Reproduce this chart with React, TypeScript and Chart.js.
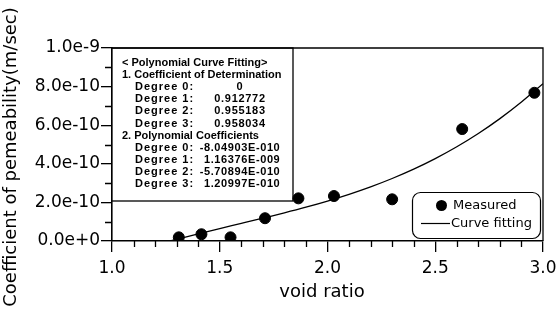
import React, { useEffect, useRef } from 'react';
import { Chart, registerables } from 'chart.js';

Chart.register(...registerables);

// Measured points (void ratio, permeability m/s)
const measuredX = [1.31, 1.415, 1.55, 1.71, 1.865, 2.03, 2.30, 2.625, 2.96];
const measuredY = [1.9e-11, 3.5e-11, 1.9e-11, 1.18e-10, 2.21e-10, 2.33e-10, 2.16e-10, 5.8e-10, 7.68e-10];

// Fitted curve
const curveX = [1.27, 1.3, 1.4, 1.5, 1.6, 1.7, 1.8, 1.9, 2.0, 2.1, 2.2, 2.3, 2.4, 2.5, 2.6, 2.7, 2.8, 2.9, 3.0];
const curveY = [0, 0.09e-10, 0.374e-10, 0.646e-10, 0.912e-10, 1.181e-10, 1.458e-10, 1.752e-10, 2.07e-10, 2.419e-10,
  2.806e-10, 3.239e-10, 3.724e-10, 4.27e-10, 4.883e-10, 5.57e-10, 6.34e-10, 7.198e-10, 8.153e-10];

const yTickLabels = ['0.0e+0', '2.0e-10', '4.0e-10', '6.0e-10', '8.0e-10', '1.0e-9'];
const xTickLabels = ['1.0', '1.5', '2.0', '2.5', '3.0'];

const infoTitle = '< Polynomial Curve Fitting>';
const infoSection1 = '1. Coefficient of Determination';
const infoSection2 = '2. Polynomial Coefficients';
const degreeLabels = ['Degree 0:', 'Degree 1:', 'Degree 2:', 'Degree 3:'];
const determinationValues = ['0', '0.912772', '0.955183', '0.958034'];
const coefficientValues = ['-8.04903E-010', '1.16376E-009', '-5.70894E-010', '1.20997E-010'];

const legendLabels = ['Measured', 'Curve fitting'];
const xTitle = 'void ratio';
const yTitle = 'Coefficient of pemeability(m/sec)';

const AXIS_FONT = '"DejaVu Sans", sans-serif';
const INFO_FONT = 'bold 11px "Liberation Sans", Arial, sans-serif';

const decorPlugin = {
  id: 'decor',
  beforeDatasetsDraw(chart: any) {
    const ctx = chart.ctx;
    const ca = chart.chartArea;
    ctx.save();
    // info box
    const bx = ca.left, by = ca.top, bw = 293 - ca.left, bh = 201 - ca.top;
    ctx.fillStyle = '#fff';
    ctx.fillRect(bx, by, bw, bh);
    ctx.strokeStyle = '#000';
    ctx.lineWidth = 1.3;
    ctx.strokeRect(bx, by, bw, bh);
    ctx.fillStyle = '#000';
    ctx.font = INFO_FONT;
    ctx.textBaseline = 'middle';
    const step = 12.1;
    let y = 63;
    ctx.textAlign = 'left';
    ctx.fillText(infoTitle, 122, y);
    y += step;
    ctx.fillText(infoSection1, 122, y);
    for (let i = 0; i < degreeLabels.length; i++) {
      y += step;
      ctx.textAlign = 'left';
      (ctx as any).letterSpacing = '1px';
      ctx.fillText(degreeLabels[i], 135, y);
      (ctx as any).letterSpacing = '0.7px';
      ctx.textAlign = 'center';
      ctx.fillText(determinationValues[i], 240, y);
    }
    (ctx as any).letterSpacing = '0px';
    y += step;
    ctx.textAlign = 'left';
    ctx.fillText(infoSection2, 122, y);
    for (let i = 0; i < degreeLabels.length; i++) {
      y += step;
      ctx.textAlign = 'left';
      (ctx as any).letterSpacing = '1px';
      ctx.fillText(degreeLabels[i], 135, y);
      (ctx as any).letterSpacing = '0.6px';
      const s = coefficientValues[i];
      let sx = 204;
      if (s.startsWith('-')) sx -= ctx.measureText('-').width;
      ctx.fillText(s, sx, y);
    }
    (ctx as any).letterSpacing = '0px';
    ctx.restore();
  },
  afterDraw(chart: any) {
    const ctx = chart.ctx;
    const ca = chart.chartArea;
    const xs = chart.scales.x;
    const ys = chart.scales.y;
    ctx.save();
    ctx.strokeStyle = '#000';
    // frame top and right
    ctx.lineWidth = 1.3;
    ctx.beginPath();
    ctx.moveTo(ca.left, ca.top);
    ctx.lineTo(ca.right, ca.top);
    ctx.lineTo(ca.right, ca.bottom);
    ctx.stroke();
    // minor ticks
    ctx.lineWidth = 1.3;
    ctx.beginPath();
    for (let i = 1; i < 20; i++) {
      if (i % 5 === 0) continue;
      const px = Math.round(xs.getPixelForValue(1 + i * 0.1)) + 0.5;
      ctx.moveTo(px, ca.bottom);
      ctx.lineTo(px, ca.bottom + 6);
    }
    for (let i = 0; i < 5; i++) {
      const py = Math.round(ys.getPixelForValue((2 * i + 1) * 1e-10)) + 0.5;
      ctx.moveTo(ca.left, py);
      ctx.lineTo(ca.left - 7, py);
    }
    ctx.stroke();

    // legend
    ctx.lineWidth = 1.2;
    ctx.beginPath();
    (ctx as any).roundRect(412.5, 192.5, 128, 46, 8);
    ctx.fillStyle = '#fff';
    ctx.fill();
    ctx.stroke();
    ctx.fillStyle = '#000';
    ctx.beginPath();
    ctx.arc(441.5, 205.5, 5.5, 0, Math.PI * 2);
    ctx.fill();
    ctx.beginPath();
    ctx.moveTo(421, 223.5);
    ctx.lineTo(450, 223.5);
    ctx.stroke();
    ctx.font = '13px ' + AXIS_FONT;
    ctx.textAlign = 'left';
    ctx.textBaseline = 'middle';
    ctx.fillText(legendLabels[0], 453, 206);
    ctx.fillText(legendLabels[1], 451, 223.5);

    // axis titles
    ctx.font = '18px ' + AXIS_FONT;
    ctx.textAlign = 'center';
    ctx.fillText(xTitle, 322, 292);
    ctx.translate(11, 157);
    ctx.rotate(-Math.PI / 2);
    ctx.fillText(yTitle, 0, 0);
    ctx.restore();
  },
};

export default function App() {
  const ref = useRef<HTMLCanvasElement | null>(null);
  useEffect(() => {
    document.body.style.margin = '0';
    document.body.style.overflow = 'hidden';
    const canvas = ref.current!;
    const chart = new Chart(canvas, {
      type: 'scatter',
      data: {
        datasets: [
          {
            label: legendLabels[0],
            data: measuredX.map((x, i) => ({ x, y: measuredY[i] })),
            backgroundColor: '#000',
            borderColor: '#000',
            pointRadius: 5.5,
            pointHoverRadius: 5.5,
            showLine: false,
            order: 0,
          },
          {
            label: legendLabels[1],
            data: curveX.map((x, i) => ({ x, y: curveY[i] })),
            borderColor: '#000',
            borderWidth: 1.3,
            pointRadius: 0,
            showLine: true,
            tension: 0.3,
            cubicInterpolationMode: 'monotone',
            order: 1,
          } as any,
        ],
      },
      options: {
        animation: false,
        responsive: false,
        events: [],
        layout: { padding: { left: 0, top: 48, right: 15, bottom: 0 } },
        plugins: { legend: { display: false }, tooltip: { enabled: false } },
        scales: {
          x: {
            type: 'linear',
            min: 1,
            max: 3,
            afterFit: (s: any) => { s.height = 75; s.paddingLeft = 0; s.paddingRight = 0; },
            border: { display: true, color: '#000', width: 1.6 },
            grid: { drawOnChartArea: false, drawTicks: true, tickLength: 11, color: '#000', lineWidth: 1.3 },
            ticks: {
              stepSize: 0.5,
              padding: 6,
              color: '#000',
              font: { family: AXIS_FONT, size: 17 },
              callback: (_v: any, i: number) => xTickLabels[i],
            },
          },
          y: {
            type: 'linear',
            min: 0,
            max: 1e-9,
            afterFit: (s: any) => { s.width = 112; s.paddingTop = 0; s.paddingBottom = 0; },
            border: { display: true, color: '#000', width: 1.6 },
            grid: { drawOnChartArea: false, drawTicks: true, tickLength: 11, color: '#000', lineWidth: 1.3 },
            ticks: {
              stepSize: 2e-10,
              padding: 1,
              color: '#000',
              font: { family: AXIS_FONT, size: 17 },
              callback: (_v: any, i: number) => yTickLabels[i],
            },
          },
        },
      },
      plugins: [decorPlugin],
    });
    return () => chart.destroy();
  }, []);
  return <canvas ref={ref} width={558} height={316} style={{ display: 'block', width: 558, height: 316 }} />;
}
